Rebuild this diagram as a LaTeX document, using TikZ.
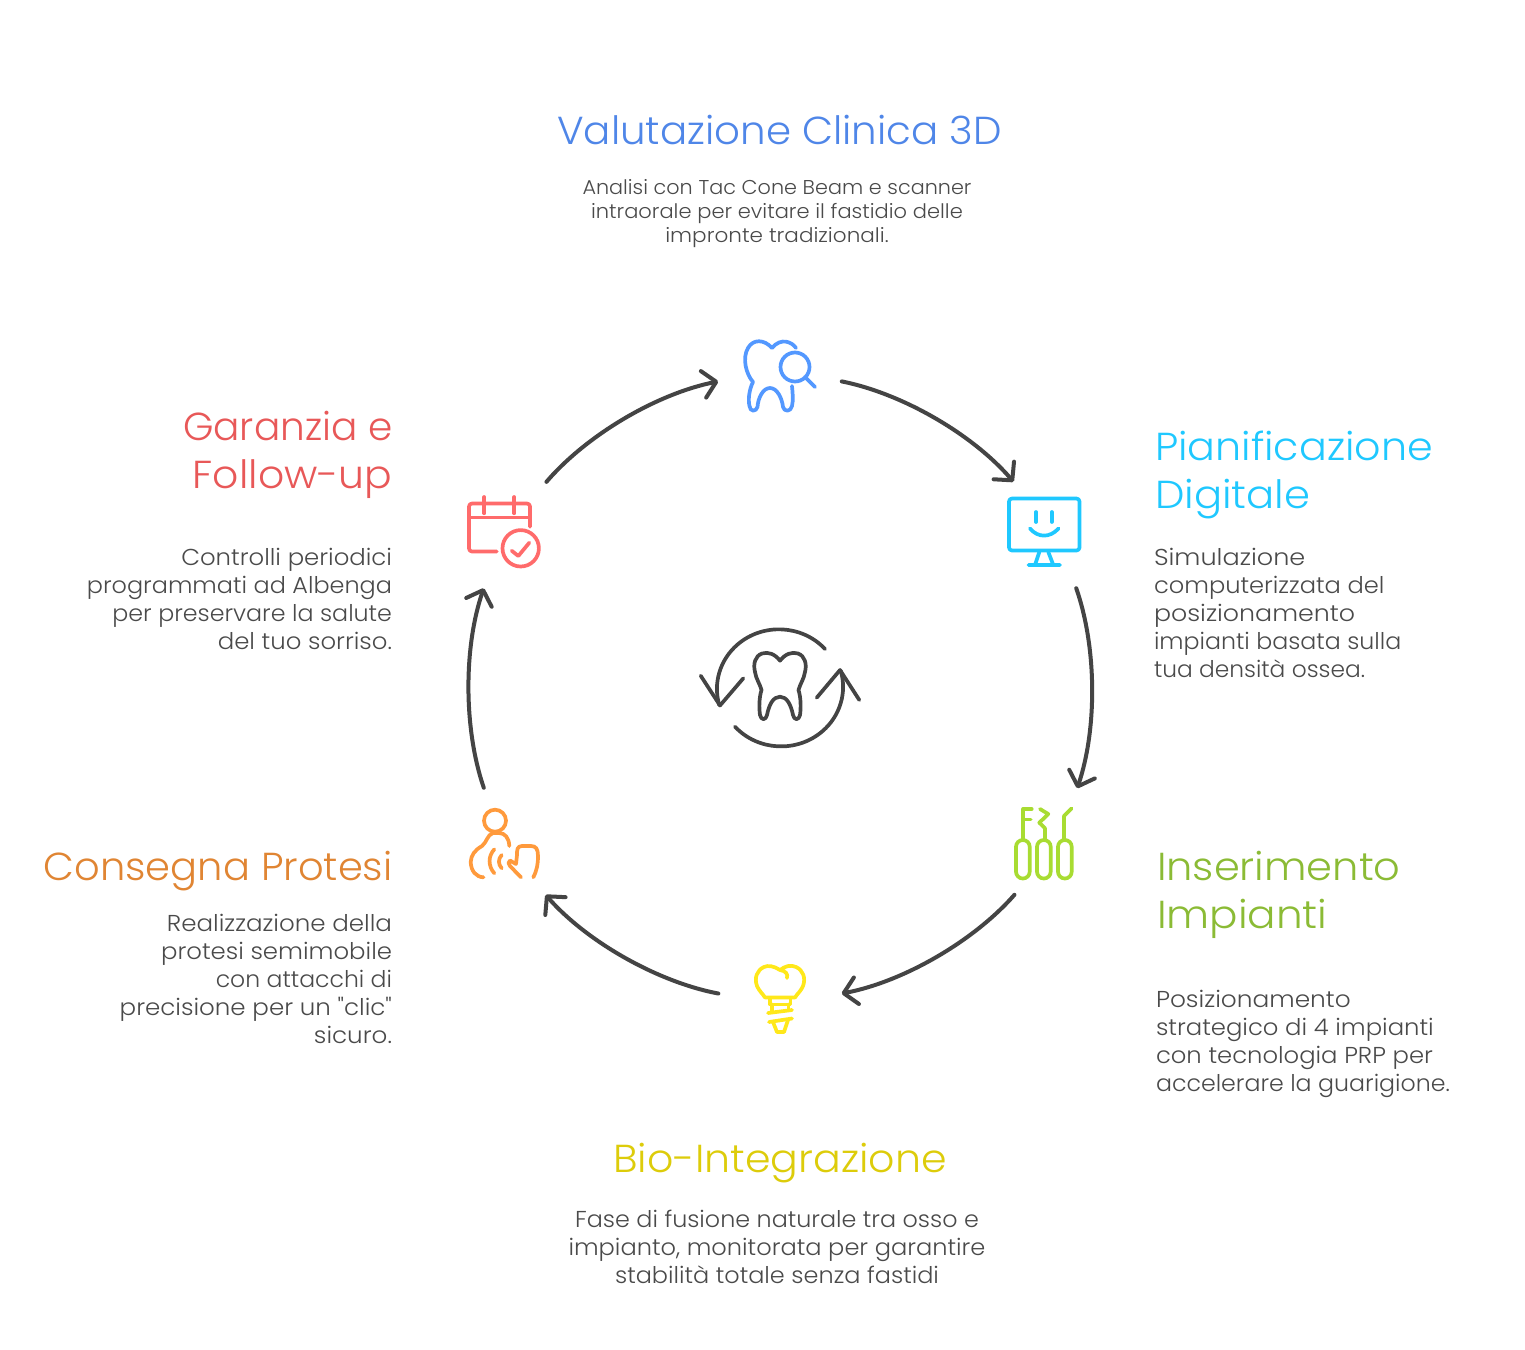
\documentclass[tikz,border=0pt]{standalone}
\usepackage{fontspec}
\usetikzlibrary{arrows.meta}
\newfontfamily\titlefont[UprightFont=* Light]{Poppins}
\newfontfamily\bodyfont[UprightFont=* Light]{Poppins}
\newcommand{\hbb}{\rule{0pt}{20pt}}
\newcommand{\htt}{\rule{0pt}{36pt}}
\newcommand{\sx}[2]{{\addfontfeature{FakeStretch=#1}#2}}
\definecolor{ctxt}{HTML}{4A4A4A}
\definecolor{carr}{HTML}{444444}
\definecolor{c1}{HTML}{5398FF}
\definecolor{c2}{HTML}{1FC8FF}
\definecolor{c3}{HTML}{A8DC32}
\definecolor{c4}{HTML}{FFE81A}
\definecolor{c5}{HTML}{FF9A3C}
\definecolor{c6}{HTML}{FF6B6B}
\definecolor{t1}{HTML}{4F86E8}
\definecolor{t2}{HTML}{1FC8FF}
\definecolor{t3}{HTML}{8BBB35}
\definecolor{t4}{HTML}{DDCC0A}
\definecolor{t5}{HTML}{E08533}
\definecolor{t6}{HTML}{E85858}
\tikzset{
 ttl/.style={inner sep=0,outer sep=0,font=\titlefont\fontsize{39}{48}\selectfont},
 bod/.style={inner sep=0,outer sep=0,text=ctxt,font=\bodyfont\fontsize{23}{28}\selectfont},
 bodsmall/.style={inner sep=0,outer sep=0,text=ctxt,font=\bodyfont\fontsize{20}{24}\selectfont},
 hub/.style={circle,minimum size=124pt,inner sep=0,outer sep=0},
 conn/.style={draw=carr,line width=4pt,line cap=round,line join=round,-{Straight Barb[length=13pt,width=27pt,line width=4pt,round]},looseness=.8},
 ico/.style={line width=3.7pt,line cap=round,line join=round,fill=none},
}
\begin{document}
\begin{tikzpicture}[x=1pt,y=-1pt]
\useasboundingbox (0,0) rectangle (1525,1349);
\fill[white] (0,0) rectangle (1525,1349);
% hubs
\node[hub] (i1) at (780,376) {};
\node[hub] (i2) at (1050,532) {};
\node[hub] (i3) at (1050,844) {};
\node[hub] (i4) at (780,1000) {};
\node[hub] (i5) at (510,844) {};
\node[hub] (i6) at (510,532) {};
% connectors
\draw[conn] (i1.-5) to[bend left=19] (i2.126);
\draw[conn] (i2.-65) to[bend left=19] (i3.64);
\draw[conn] (i3.-125) to[bend left=19] (i4.6);
\draw[conn] (i4.174) to[bend left=19] (i5.-55);
\draw[conn] (i5.115) to[bend left=19] (i6.-115);
\draw[conn] (i6.54) to[bend left=19] (i1.-175);
% icon 1
\draw[ico,c1] (796,348) .. controls (792,342) and (781,337) .. (772,348)
  .. controls (764,339) and (753,339) .. (748,348)
  .. controls (742,358) and (746,374) .. (753,382)
  .. controls (749,390) and (748,400) .. (749.5,406)
  .. controls (750,412) and (756,412) .. (757.5,407)
  .. controls (758,398) and (763,388) .. (770,388)
  .. controls (777,388) and (782,398) .. (783,407)
  .. controls (784,412) and (791,412) .. (792,406)
  .. controls (793.5,400) and (792.5,392) .. (792,386);
\draw[ico,c1] (795,367) circle[radius=14.5];
\draw[ico,c1] (805,377) -- (815,387);
% icon 2
\draw[ico,c2,rounded corners=3pt] (1009,498.5) rectangle (1079.5,550.5);
\draw[ico,c2] (1036,512) -- (1036,522) (1051.7,512) -- (1051.7,522);
\draw[ico,c2] (1030,528.5) .. controls (1038,538) and (1050,538) .. (1058.5,528.5);
\draw[ico,c2] (1039.3,552) -- (1035,565) (1048.3,552) -- (1053.3,565) (1028.5,565) -- (1060,565);
% icon 3
\draw[ico,c3,rounded corners=6.8pt] (1016,840) rectangle (1029.7,878.5);
\draw[ico,c3,rounded corners=6.8pt] (1037,840) rectangle (1050.7,878.5);
\draw[ico,c3,rounded corners=6.8pt] (1058,840) rectangle (1071.7,878.5);
\draw[ico,c3] (1023.3,839.5) -- (1023.3,809) -- (1031.7,809) (1023.3,819.5) -- (1030.7,819.5);
\draw[ico,c3] (1040,809) -- (1048.3,814) -- (1039.3,822.7) -- (1045,828.3) -- (1045,839.5);
\draw[ico,c3] (1071.5,808.5) -- (1064,816) -- (1064,839.5);
% icon 4
\draw[ico,c4] (780,970) .. controls (774,966) and (768,965) .. (764,967)
  .. controls (757,970) and (754,978) .. (757,986)
  .. controls (759,991) and (763,994) .. (765,997.5) -- (795,997.5)
  .. controls (797,994) and (801,991) .. (803,986)
  .. controls (806,978) and (803,970) .. (796,967)
  .. controls (791,964.5) and (785,966) .. (780,970)
  .. controls (786,971) and (788,974) .. (787,978);
\draw[ico,c4] (770,998.5) -- (770,1004.5) -- (790.5,1004.5) -- (790.5,998.5);
\draw[ico,c4] (771.7,1004.5) -- (771.7,1012) (788.5,1004.5) -- (788.5,1010);
\draw[ico,c4] (768,1013) -- (792,1010);
\draw[ico,c4] (769,1022) -- (792,1018.5);
\draw[ico,c4] (773,1022) -- (777,1032) -- (784,1032) -- (788,1020);
% icon 5
\draw[ico,c5] (495,820.7) circle[radius=11];
\draw[ico,c5] (509.3,846) .. controls (509,838) and (505,833) .. (499,833)
  -- (493,833) .. controls (487,835) and (487,842) .. (482,846)
  .. controls (475,850) and (471,855) .. (470.7,862)
  .. controls (471,871) and (476,877) .. (483.5,877.3);
\draw[ico,c5] (494.3,849.3) .. controls (488,856) and (488,866) .. (494.3,873.3);
\draw[ico,c5] (501.7,855) .. controls (498,859) and (498,864) .. (501.7,868.3);
\draw[ico,c5] (533.3,877.3) .. controls (537,870) and (538,864) .. (538,856)
  .. controls (538,849) and (536,846) .. (531,846)
  -- (522,846) .. controls (517,846) and (517,850) .. (517,855)
  -- (516,864) -- (510,860.5) .. controls (508,862) and (508,864) .. (510,866)
  -- (521,877.3);
% icon 6
\draw[ico,c6,rounded corners=3pt] (530,526.7) -- (530,503.5) -- (469,503.5) -- (469,551.5) -- (496.7,551.5);
\draw[ico,c6] (469,517.5) -- (530,517.5);
\draw[ico,c6] (484.3,497) -- (484.3,513.3) (514.3,497) -- (514.3,513.3);
\draw[ico,c6] (520.7,548.3) circle[radius=18.2];
\draw[ico,c6] (511.7,550.7) -- (518.3,556) -- (529.3,542.7);
% centre
\draw[ico,carr] (825,649) arc[start angle=-42,end angle=-196,x radius=62,y radius=59.5];
\draw[ico,carr] (700.7,675.7) -- (720,705.5) -- (743.3,678.3);
\draw[ico,carr] (735,726.7) arc[start angle=-222,end angle=-376,x radius=62,y radius=59.5];
\draw[ico,carr] (816.7,697.7) -- (840,670) -- (859.3,700);
\draw[ico,carr] (780,660.7) .. controls (775,654) and (768,651.5) .. (762,653.5)
  .. controls (755,656) and (753,664) .. (755,672)
  .. controls (756,679) and (760,684) .. (761.5,690)
  .. controls (759,698) and (759,708) .. (760,715)
  .. controls (761,720.5) and (766,720.5) .. (767,715)
  .. controls (769,705) and (773,696.7) .. (780,696.7)
  .. controls (787,696.7) and (791,705) .. (793,715)
  .. controls (794,720.5) and (799,720.5) .. (800,715)
  .. controls (801,708) and (801,698) .. (798.5,690)
  .. controls (800,684) and (804,679) .. (805,672)
  .. controls (807,664) and (805,656) .. (798,653.5)
  .. controls (792,651.5) and (785,654) .. (780,660.7) -- cycle;
% titles
\node[ttl,text=t1,anchor=north,align=center] (t1n) at (779.5,108) {\htt\sx{1.035}{Valutazione Clinica 3D}};
\node[ttl,text=t2,anchor=north west,align=left] (t2n) at (1155,424) {\htt\sx{1.057}{Pianificazione}\\\sx{1.07}{Digitale}};
\node[ttl,text=t3,anchor=north west,align=left] (t3n) at (1157,844) {\htt\sx{1.066}{Inserimento}\\\sx{1.08}{Impianti}};
\node[ttl,text=t4,anchor=north,align=center] (t4n) at (780,1136) {\htt\sx{1.054}{Bio-Integrazione}};
\node[ttl,text=t5,anchor=north east,align=right] (t5n) at (392.5,844) {\htt\sx{1.026}{Consegna Protesi}};
\node[ttl,text=t6,anchor=north east,align=right] (t6n) at (392.5,404) {\htt Garanzia e\\\sx{1.05}{Follow-up}};
% bodies
\node[bodsmall,anchor=north,align=center] (b1) at (777,174) {\hbb\sx{1.037}{Analisi con Tac Cone Beam e scanner}\\\sx{1.05}{intraorale per evitare il fastidio delle}\\\sx{1.077}{impronte tradizionali.}};
\node[bod,anchor=north west,align=left] (b2) at (1154,545) {\hbb\sx{1.11}{Simulazione}\\\sx{1.05}{computerizzata del}\\\sx{1.1}{posizionamento}\\\sx{1.03}{impianti basata sulla}\\\sx{1.014}{tua densità ossea.}};
\node[bod,anchor=north west,align=left] (b3) at (1156,987) {\hbb\sx{1.08}{Posizionamento}\\\sx{1.057}{strategico di 4 impianti}\\\sx{1.056}{con tecnologia PRP per}\\\sx{1.03}{accelerare la guarigione.}};
\node[bod,anchor=north,align=center] (b4) at (777,1207) {\hbb\sx{1.036}{Fase di fusione naturale tra osso e}\\\sx{1.048}{impianto, monitorata per garantire}\\\sx{1.042}{stabilità totale senza fastidi}};
\node[bod,anchor=north east,align=right] (b5) at (392,911) {\hbb\sx{1.067}{Realizzazione della}\\\sx{1.06}{protesi semimobile}\\\sx{1.023}{con attacchi di}\\\sx{1.067}{precisione per un "clic"}\\\sx{1.07}{sicuro.}};
\node[bod,anchor=north east,align=right] (b6) at (392,545) {\hbb\sx{1.06}{Controlli periodici}\\\sx{1.04}{programmati ad Albenga}\\\sx{1.033}{per preservare la salute}\\\sx{1.06}{del tuo sorriso.}};
\end{tikzpicture}
\end{document}
